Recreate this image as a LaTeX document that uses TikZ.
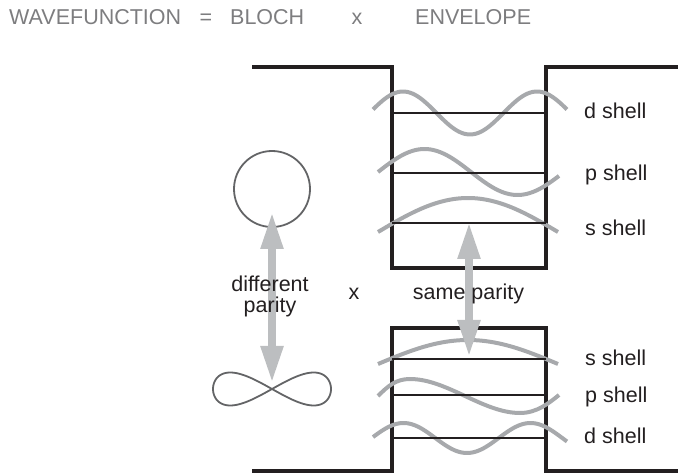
\documentclass[tikz,border=0pt]{standalone}
\usepackage{fontspec}
\setmainfont{Liberation Sans}
\usetikzlibrary{arrows.meta}

\definecolor{titlegray}{RGB}{125,125,127}
\definecolor{inkdark}{RGB}{35,31,32}
\definecolor{wavegray}{RGB}{167,169,172}
\definecolor{arrowgray}{RGB}{188,190,192}
\definecolor{orbgray}{RGB}{99,100,102}

\tikzset{
  txt/.style={inner sep=0pt, font=\fontsize{21.5}{21}\selectfont},
  title/.style={txt, text=titlegray, anchor=base west},
  shelllabel/.style={txt, text=inkdark, anchor=base west},
  note/.style={txt, text=inkdark, anchor=base},
  well/.style={draw=inkdark, line width=4pt, line join=miter},
  level/.style={draw=inkdark, line width=1.8pt},
  wave/.style={draw=wavegray, line width=4pt, smooth},
  orb/.style={draw=orbgray, line width=1.8pt},
  parity/.style={draw=arrowgray, line width=8pt,
    {Triangle[length=37pt,width=21pt]}-{Triangle[length=37pt,width=21pt]}}
}

\begin{document}
\begin{tikzpicture}[x=1pt, y=-1pt]
\useasboundingbox (0,0) rectangle (678,473);

% heading
\node[title] (tWave) at (9,25) {WAVEFUNCTION};
\node[title, anchor=base] (tEq) at (206,25) {=};
\node[title] (tBloch) at (230,25) {BLOCH};
\node[title, anchor=base] (tTimes) at (357,25) {x};
\node[title] (tEnv) at (415,25) {ENVELOPE};

% upper potential well
\draw[well] (252,67) -- (392,67) -- (392,268) -- (546,268) -- (546,67) -- (678,67);
% lower (inverted) potential well
\draw[well] (252,471) -- (392,471) -- (392,328) -- (546,328) -- (546,471) -- (678,471);

% envelope functions, upper well
\draw[wave] plot[domain=373:567, samples=80] (\x, {113+21.5*cos(360/134*(\x-470))});
\draw[wave] plot[domain=378:559, samples=80] (\x, {172-23*sin(360/186*(\x-378))});
\draw[wave] plot[domain=378:558, samples=60] (\x, {232-34*cos(\x-468)});

% envelope functions, lower well
\draw[wave] plot[domain=378:558, samples=60] (\x, {364-24*cos(\x-468)});
\draw[draw=wavegray, line width=4pt]
  (378,396) .. controls (388,386) and (396,379) .. (410,379)
  .. controls (447,379) and (483,413) .. (520,413)
  .. controls (537,413) and (549,403) .. (559,395);
\draw[wave] plot[domain=373:567, samples=80] (\x, {438+15*cos(360/127*(\x-467))});

% confined levels
\foreach \yy in {113,173,223,359,395,438}
  \draw[level] (392,\yy) -- (546,\yy);

% shell labels
\node[shelllabel] (uD) at (584,119) {d shell};
\node[shelllabel] (uP) at (585,181) {p shell};
\node[shelllabel] (uS) at (585,236) {s shell};
\node[shelllabel] (lS) at (585,365) {s shell};
\node[shelllabel] (lP) at (585,402) {p shell};
\node[shelllabel] (lD) at (584,443) {d shell};

% Bloch parts: s-like and p-like orbitals
\node[orb, circle, draw, minimum size=76pt, inner sep=0pt] (sOrb) at (272,189) {};
\draw[orb] plot[domain=0:360, samples=120, smooth]
  ({272+59*cos(\x)}, {389+16.5*sin(2*\x)});
\coordinate (pOrb) at (272,389);

% parity arrows
\coordinate (sTip) at (272,212);
\coordinate (pTip) at (272,383);
\coordinate (envTop) at (469,222);
\coordinate (envBot) at (469,357);
\draw[parity] (sTip) -- (pTip);
\draw[parity] (envTop) -- (envBot);

% captions (base anchor sits on the last line)
\node[note, align=center] (diff) at (270,313) {different\\parity};
\node[note] (times) at (354,300) {x};
\node[note] (same) at (468.5,300) {same parity};
\end{tikzpicture}
\end{document}
